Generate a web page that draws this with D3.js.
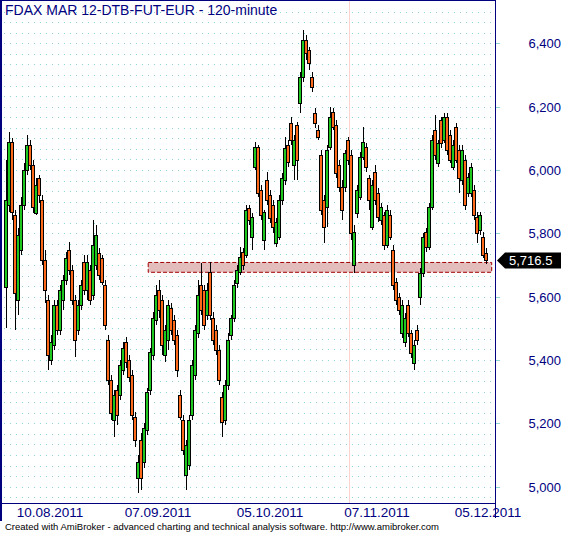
<!DOCTYPE html>
<html><head><meta charset="utf-8">
<script src="https://cdn.jsdelivr.net/npm/d3@7"></script>
<style>body{margin:0;background:#fff}svg{display:block}</style>
</head><body><svg id="c" width="564" height="533"></svg>
<script>
const opens=[5631,5890,6089,5858,5590,5747,5890,6000,6079,6016,5864,5975,5905,5716,5590,5400,5447,5574,5495,5590,5653,5747,5684,5590,5495,5574,5709,5621,5684,5605,5700,5738,5722,5637,5463,5337,5211,5305,5290,5369,5457,5400,5353,5220,5027,5147,5078,5179,5305,5416,5526,5621,5590,5416,5463,5564,5526,5479,5290,5211,5037,5069,5226,5353,5485,5637,5621,5542,5678,5533,5495,5432,5283,5211,5321,5479,5533,5643,5678,5741,5732,5880,5789,6010,6073,5937,5779,5969,5921,5890,5770,5789,5905,5969,6079,6149,6016,6142,6212,6294,6411,6379,6294,6180,6126,6048,5905,5883,6073,6183,6142,6016,5947,5947,6095,6048,5700,5864,5915,6041,6073,5975,5820,5994,5927,5842,5858,5763,5858,5747,5646,5599,5485,5457,5574,5485,5391,5495,5599,5675,5804,5757,5883,6126,6022,6158,6095,6168,6111,6010,6136,6063,5969,6032,5927,5927,5937,5852,5811,5789,5738];
const highs=[6032,6120,6101,5874,5817,5915,6022,6111,6095,6032,5975,5984,5921,5747,5605,5479,5590,5590,5637,5669,5741,5773,5700,5605,5590,5653,5732,5732,5700,5842,5826,5754,5732,5653,5479,5353,5305,5321,5400,5457,5473,5416,5369,5236,5100,5170,5201,5312,5438,5552,5637,5653,5605,5511,5590,5580,5542,5495,5305,5226,5147,5226,5400,5511,5653,5706,5637,5643,5709,5552,5511,5447,5299,5337,5485,5542,5653,5700,5757,5754,5890,5890,5864,6089,6079,5953,5874,5994,5937,5905,5849,5921,5991,6104,6095,6168,6111,6152,6310,6442,6426,6389,6310,6196,6142,6063,5921,6079,6199,6196,6158,6032,5969,6063,6104,6063,5826,5953,6057,6136,6085,5984,5969,6016,5943,5896,5867,5890,5874,5763,5659,5612,5590,5548,5590,5495,5463,5511,5691,5801,5817,5896,6111,6174,6095,6168,6180,6180,6126,6095,6149,6079,6079,6048,5991,6022,5953,5867,5867,5804,5754];
const lows=[5501,5867,5842,5495,5542,5732,5874,5984,6000,5864,5858,5896,5700,5580,5369,5384,5432,5479,5479,5558,5637,5669,5574,5410,5479,5558,5605,5590,5574,5590,5684,5653,5637,5495,5321,5211,5157,5195,5274,5353,5375,5331,5211,5125,4980,4990,5059,5163,5290,5400,5511,5533,5416,5394,5432,5479,5447,5346,5211,5100,4990,5053,5211,5337,5470,5542,5495,5526,5526,5447,5416,5321,5157,5195,5305,5463,5520,5628,5669,5684,5722,5826,5747,6000,5915,5842,5747,5890,5833,5801,5757,5779,5890,5953,6010,6079,5969,5969,6180,6278,6348,6316,6246,6133,6095,5858,5770,5820,6063,6126,5975,5931,5842,5931,6016,5779,5675,5849,5905,6032,5994,5874,5811,5890,5836,5826,5747,5754,5779,5621,5574,5542,5470,5441,5473,5406,5369,5447,5574,5662,5741,5747,5874,6032,6010,6070,6085,6048,6022,6000,6022,5927,5953,5874,5915,5915,5842,5770,5795,5722,5703];
const closes=[5905,6089,5867,5612,5795,5890,6000,6079,6016,5883,5953,5921,5716,5621,5416,5457,5574,5495,5621,5653,5722,5684,5590,5463,5574,5637,5621,5709,5590,5763,5795,5669,5646,5511,5337,5233,5290,5226,5384,5438,5394,5346,5226,5147,5078,5027,5185,5299,5425,5533,5605,5558,5447,5495,5574,5495,5463,5369,5220,5116,5132,5211,5384,5495,5605,5558,5511,5621,5542,5463,5432,5337,5204,5321,5463,5533,5637,5684,5725,5700,5874,5842,5852,6073,5927,5858,5867,5905,5849,5820,5836,5905,5975,6070,6025,6095,6095,6032,6294,6411,6370,6338,6262,6149,6104,5874,5820,6063,6168,6136,5991,5947,5874,6054,6032,5801,5804,5937,6041,6089,6010,5905,5953,5905,5852,5883,5763,5874,5789,5637,5590,5558,5574,5533,5485,5422,5447,5463,5675,5789,5757,5883,6095,6048,6085,6085,6168,6063,6032,6079,6032,5975,6063,5890,5978,6010,5858,5801,5858,5732,5716.5];
const priceTicks=[5000,5200,5400,5600,5800,6000,6200,6400];
const dateLabels=["10.08.2011","07.09.2011","05.10.2011","07.11.2011","05.12.2011"];
const dateLabelBars=[14.7,50.7,88,123.7,160.7];
const lastPrice=5716.5;
const zoneLow=5677, zoneHigh=5708;
const zoneStartBar=47.4, zoneEndBar=161.9;
const separatorBar=114.3;
const title="FDAX MAR 12-DTB-FUT-EUR - 120-minute";
const footer="Created with AmiBroker - advanced charting and technical analysis software. http://www.amibroker.com";

const svg=d3.select("#c");
const navy="#00007f", grid="#8fd6d6";
const x=d3.scaleLinear().domain([0,opens.length-1]).range([6,486]);
const y=d3.scaleLinear().domain([5000,6400]).range([486.7,43.3]);
const fmt=d3.format(",.0f");

// grid dots
const gridVals=d3.range(4900,6560,100/3);
const gdots=svg.append("g");
gridVals.forEach(v=>{
  const yy=Math.round(y(v))+0.5;
  if(yy<4||yy>501) return;
  gdots.append("line").attr("x1",4).attr("x2",492).attr("y1",yy).attr("y2",yy)
    .attr("stroke",grid).attr("stroke-width",1).attr("stroke-dasharray","1,5");
});

// month separator
svg.append("line").attr("x1",Math.round(x(separatorBar))+0.5).attr("x2",Math.round(x(separatorBar))+0.5)
  .attr("y1",0).attr("y2",503).attr("stroke","#ffd2d2").attr("stroke-width",1);

// zone
svg.append("rect").attr("x",x(zoneStartBar)).attr("y",y(zoneHigh))
  .attr("width",x(zoneEndBar)-x(zoneStartBar)).attr("height",y(zoneLow)-y(zoneHigh))
  .attr("fill","#e3bcbc").attr("stroke","#a00000").attr("stroke-width",1).attr("stroke-dasharray","4,2");

// candles
const data=opens.map((o,i)=>({o,h:highs[i],l:lows[i],c:closes[i],i}));
const cg=svg.append("g");
data.forEach(d=>{
  const cx=Math.round(x(d.i))+0.5;
  cg.append("line").attr("x1",cx).attr("x2",cx).attr("y1",Math.round(y(d.h))).attr("y2",Math.round(y(d.l)))
    .attr("stroke","#000").attr("stroke-width",1);
});
data.forEach(d=>{
  const cx=Math.round(x(d.i));
  const top=Math.round(y(Math.max(d.o,d.c))), bot=Math.round(y(Math.min(d.o,d.c)));
  cg.append("rect").attr("x",cx-1.5).attr("y",top+0.5).attr("width",3).attr("height",Math.max(1,bot-top))
    .attr("fill",d.c>=d.o?"#1ec81e":"#ff6a1a").attr("stroke","#000").attr("stroke-width",1);
});

// frame & axes
svg.append("line").attr("x1",1).attr("x2",1).attr("y1",0).attr("y2",521).attr("stroke",navy).attr("stroke-width",2);
svg.append("line").attr("x1",0).attr("x2",496).attr("y1",0.5).attr("y2",0.5).attr("stroke",navy);
svg.append("line").attr("x1",495.5).attr("x2",495.5).attr("y1",0).attr("y2",518).attr("stroke",navy);
svg.append("line").attr("x1",0).attr("x2",496).attr("y1",503.5).attr("y2",503.5).attr("stroke",navy);

// y ticks + labels
priceTicks.forEach(v=>{
  const yy=Math.round(y(v))+0.5;
  svg.append("line").attr("x1",496).attr("x2",500).attr("y1",yy).attr("y2",yy).attr("stroke",grid);
  svg.append("text").attr("x",561).attr("y",yy+4.5).attr("text-anchor","end")
    .attr("font-family","Liberation Sans, Arial, sans-serif").attr("font-size",13).attr("fill",navy).text(fmt(v));
});

// date labels
dateLabels.forEach((t,k)=>{
  svg.append("text").attr("x",x(dateLabelBars[k])).attr("y",517).attr("text-anchor","middle")
    .attr("font-family","Liberation Sans, Arial, sans-serif").attr("font-size",13.5).attr("fill",navy).text(t);
});

// last price marker
const ly=Math.round(y(lastPrice))+0.5;
svg.append("path").attr("d",`M497,${ly} L505,${ly-8} L561,${ly-8} L561,${ly+8} L505,${ly+8} Z`).attr("fill","#000");
svg.append("text").attr("x",509).attr("y",ly+4.5).attr("font-family","Liberation Sans, Arial, sans-serif")
  .attr("font-size",13).attr("fill","#fff").text(d3.format(",.1f")(lastPrice));

// title & footer
svg.append("text").attr("x",5).attr("y",15).attr("font-family","Liberation Sans, Arial, sans-serif")
  .attr("font-size",14).attr("fill",navy).text(title);
svg.append("text").attr("x",5).attr("y",530).attr("font-family","Liberation Sans, Arial, sans-serif")
  .attr("font-size",9.5).attr("fill","#000").text(footer);
</script></body></html>
